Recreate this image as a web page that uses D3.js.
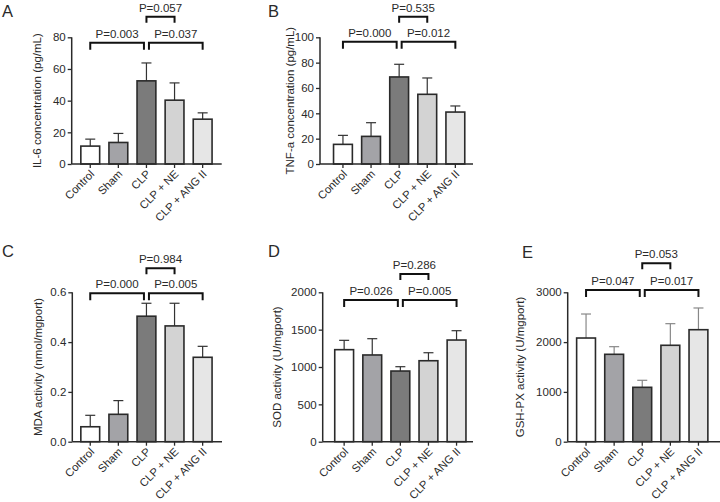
<!DOCTYPE html>
<html>
<head>
<meta charset="utf-8">
<script src="https://cdn.jsdelivr.net/npm/d3@7"></script>
<style>
  html, body { margin: 0; padding: 0; background: #fff; }
  svg { display: block; font-family: "Liberation Sans", Arial, Helvetica, sans-serif; }
</style>
</head>
<body>
<svg id="chart" width="720" height="502"></svg>
<script>
// ---------------- DATA ----------------
const categories = ["Control", "Sham", "CLP", "CLP + NE", "CLP + ANG II"];
const barColors = ["#ffffff", "#a3a3a7", "#7b7b7b", "#d3d3d3", "#e6e6e6"];

const il6Mean = [11.3, 13.6, 52.5, 40.3, 28.3];
const il6Sd   = [4.4, 5.7, 11.3, 10.9, 4.0];
const il6Ticks = [0, 20, 40, 60, 80];
const il6P = ["P=0.003", "P=0.037", "P=0.057"];

const tnfMean = [15.5, 21.8, 68.7, 55.0, 41.0];
const tnfSd   = [7.1, 10.8, 10.0, 12.9, 4.8];
const tnfTicks = [0, 20, 40, 60, 80, 100];
const tnfP = ["P=0.000", "P=0.012", "P=0.535"];

const mdaMean = [0.060, 0.110, 0.504, 0.465, 0.339];
const mdaSd   = [0.046, 0.055, 0.052, 0.091, 0.044];
const mdaTicks = [0, 0.2, 0.4, 0.6];
const mdaP = ["P=0.000", "P=0.005", "P=0.984"];

const sodMean = [1232, 1161, 946, 1084, 1361];
const sodSd   = [125, 218, 58, 107, 125];
const sodTicks = [0, 500, 1000, 1500, 2000];
const sodP = ["P=0.026", "P=0.005", "P=0.286"];

const gshMean = [2082, 1755, 1092, 1936, 2249];
const gshSd   = [482, 153, 141, 434, 436];
const gshTicks = [0, 1000, 2000, 3000];
const gshP = ["P=0.047", "P=0.017", "P=0.053"];

// ---------------- LAYOUT ----------------
const panels = [
  { letter: "A", lx: 2, ly: 17, mean: il6Mean, sd: il6Sd, ticks: il6Ticks, fmt: d3.format("d"), p: il6P,
    ylabel: "IL-6 concentration (pg/mL)", axisX: 71.7, top: 37.3, bottom: 164, bandStart: 76.2, axisEnd: 221.7,
    labelX: 37, br: 42.7, brTop: 16.7, errColor: "#333" },
  { letter: "B", lx: 268, ly: 17, mean: tnfMean, sd: tnfSd, ticks: tnfTicks, fmt: d3.format("d"), p: tnfP,
    ylabel: "TNF-a concentration (pg/mL)", axisX: 320, top: 37.3, bottom: 164, bandStart: 328.9, axisEnd: 473,
    labelX: 290, br: 41.7, brTop: 16.7, errColor: "#333" },
  { letter: "C", lx: 2, ly: 257, mean: mdaMean, sd: mdaSd, ticks: mdaTicks, fmt: d3.format(".1f"), p: mdaP,
    ylabel: "MDA activity (nmol/mgport)", axisX: 72.3, top: 292.3, bottom: 441.7, bandStart: 76.2, axisEnd: 222,
    labelX: 38, br: 293.3, brTop: 268.3, errColor: "#333" },
  { letter: "D", lx: 268, ly: 257, mean: sodMean, sd: sodSd, ticks: sodTicks, fmt: d3.format("d"), p: sodP,
    ylabel: "SOD activity (U/mgport)", axisX: 322.7, top: 292.3, bottom: 441.7, bandStart: 330.1, axisEnd: 473,
    labelX: 277, br: 300, brTop: 274, errColor: "#333" },
  { letter: "E", lx: 522, ly: 258, mean: gshMean, sd: gshSd, ticks: gshTicks, fmt: d3.format("d"), p: gshP,
    ylabel: "GSH-PX activity (U/mgport)", axisX: 567.7, top: 292.3, bottom: 441.7, bandStart: 572, axisEnd: 720,
    labelX: 520, br: 290, brTop: 263.3, errColor: "#888" }
];

const svg = d3.select("#chart");
const ink = "#2a2a2a";
const step = 28.1;
const fs = 11.5;
const fsX = 11.2;

panels.forEach(pn => {
  const g = svg.append("g");
  const maxTick = pn.ticks[pn.ticks.length - 1];
  const y = d3.scaleLinear().domain([0, maxTick]).range([pn.bottom, pn.top]);
  const x = d3.scaleBand().domain(categories)
      .range([pn.bandStart, pn.bandStart + step * categories.length])
      .paddingInner(0.33).paddingOuter(0.165);
  const cx = c => x(c) + x.bandwidth() / 2;

  // panel letter
  g.append("text").attr("x", pn.lx).attr("y", pn.ly)
    .attr("font-size", 16.5).attr("fill", ink).text(pn.letter);

  // y label
  g.append("text")
    .attr("transform", `translate(${pn.labelX},${(pn.top + pn.bottom) / 2}) rotate(-90)`)
    .attr("text-anchor", "middle").attr("dy", "0.35em")
    .attr("font-size", fs).attr("fill", ink).text(pn.ylabel);

  // error bars (behind bars)
  const eb = g.append("g");
  categories.forEach((c, i) => {
    eb.append("line").attr("x1", cx(c)).attr("x2", cx(c))
      .attr("y1", y(pn.mean[i])).attr("y2", y(pn.mean[i] + pn.sd[i]))
      .attr("stroke", pn.errColor).attr("stroke-width", 1.2);
    eb.append("line").attr("x1", cx(c) - 5).attr("x2", cx(c) + 5)
      .attr("y1", y(pn.mean[i] + pn.sd[i])).attr("y2", y(pn.mean[i] + pn.sd[i]))
      .attr("stroke", pn.errColor).attr("stroke-width", 1.2);
  });

  // bars
  g.append("g").selectAll("rect").data(categories).join("rect")
    .attr("x", c => x(c))
    .attr("width", x.bandwidth())
    .attr("y", (c, i) => y(pn.mean[i]))
    .attr("height", (c, i) => y(0) - y(pn.mean[i]))
    .attr("fill", (c, i) => barColors[i])
    .attr("stroke", ink).attr("stroke-width", 1.6);

  // y axis
  const ya = g.append("g").attr("transform", `translate(${pn.axisX},0)`)
    .call(d3.axisLeft(y).tickValues(pn.ticks).tickFormat(pn.fmt).tickSize(4).tickPadding(2));
  ya.select(".domain").attr("stroke", ink).attr("stroke-width", 1.5)
    .attr("d", `M0,${pn.top}V${pn.bottom}`);
  ya.selectAll(".tick line").attr("stroke", ink).attr("stroke-width", 1.3);
  ya.selectAll(".tick text").attr("font-size", fs).attr("fill", ink)
    .attr("font-family", "Liberation Sans, Arial, sans-serif");

  // x axis
  const xa = g.append("g").attr("transform", `translate(0,${pn.bottom})`)
    .call(d3.axisBottom(x).tickSize(4).tickPadding(3));
  xa.select(".domain").attr("stroke", ink).attr("stroke-width", 1.5)
    .attr("d", `M${pn.axisX},0H${pn.axisEnd}`);
  xa.selectAll(".tick line").attr("stroke", ink).attr("stroke-width", 1.3);
  xa.selectAll(".tick text")
    .attr("font-size", fsX).attr("fill", ink)
    .attr("font-family", "Liberation Sans, Arial, sans-serif")
    .attr("text-anchor", "end")
    .attr("x", 0).attr("y", 0)
    .attr("dy", "0.35em")
    .attr("transform", "translate(2,8) rotate(-45)");

  // significance brackets
  const brk = (i0, i1, yTop, legs, label, off0, off1) => {
    const x0 = cx(categories[i0]) + off0, x1 = cx(categories[i1]) + off1;
    g.append("path")
      .attr("d", `M${x0},${yTop + legs}V${yTop}H${x1}V${yTop + legs}`)
      .attr("fill", "none").attr("stroke", "#111").attr("stroke-width", 2);
    g.append("text").attr("x", (x0 + x1) / 2).attr("y", yTop - 5)
      .attr("text-anchor", "middle").attr("font-size", fs).attr("fill", ink).text(label);
  };
  brk(0, 2, pn.br, 7, pn.p[0], 0, -2.5);
  brk(2, 4, pn.br, 7, pn.p[1], 2.5, 0);
  brk(2, 3, pn.brTop, 6, pn.p[2], 0, 0);
});
</script>
</body>
</html>
